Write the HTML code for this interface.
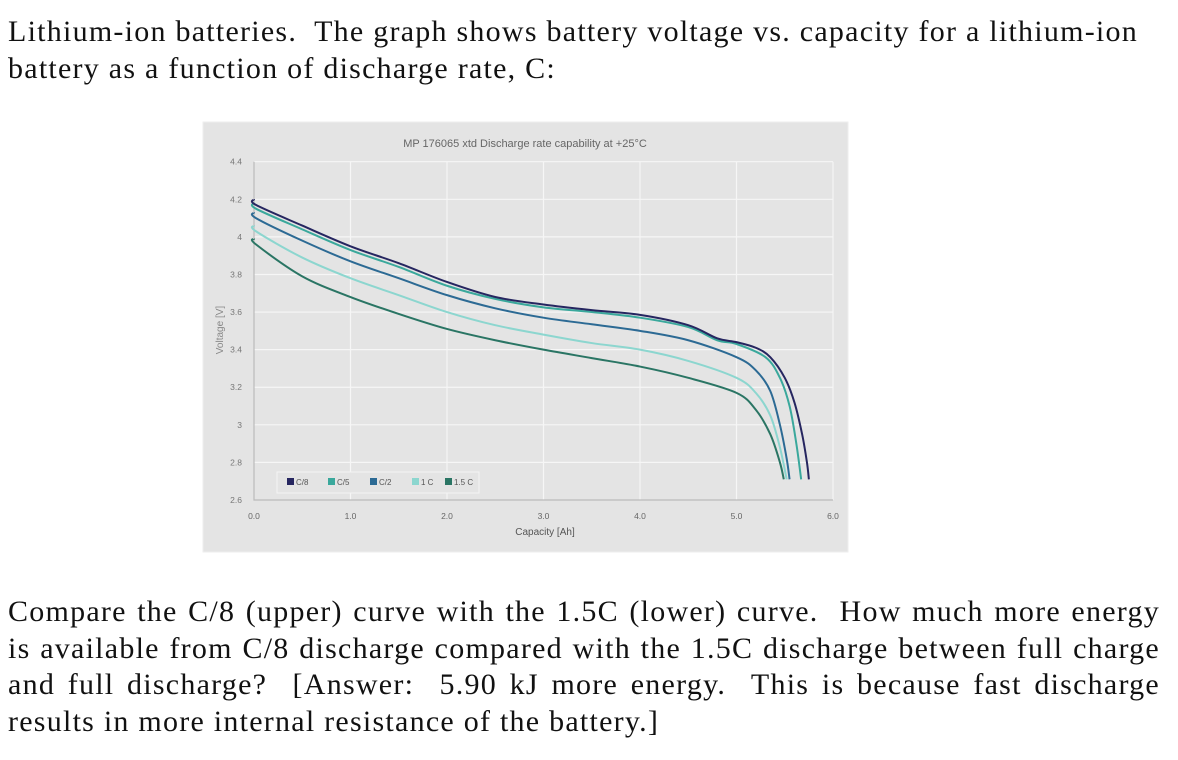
<!DOCTYPE html>
<html><head><meta charset="utf-8"><style>
body{margin:0;width:1178px;height:760px;background:#fff;overflow:hidden;position:relative;font-family:"Liberation Serif",serif;color:#111}
.p{position:absolute;left:8px;width:1152px;font-size:30px;line-height:36.5px;margin:0;letter-spacing:1.25px}
#top{top:14px}
#bot{top:594px}
.j{display:block;text-align:justify;text-align-last:justify;white-space:nowrap}
.l{display:block;white-space:nowrap}
svg{position:absolute;left:0;top:0}
</style></head><body>
<p class="p" id="top"><span class="l">Lithium-ion batteries.&nbsp; The graph shows battery voltage vs. capacity for a lithium-ion</span><span class="l">battery as a function of discharge rate, C:</span></p>
<svg width="1178" height="760" id="chart"></svg>
<p class="p" id="bot"><span class="j">Compare the C/8 (upper) curve with the 1.5C (lower) curve.&nbsp; How much more energy</span><span class="j">is available from C/8 discharge compared with the 1.5C discharge between full charge</span><span class="j">and full discharge?&nbsp; [Answer:&nbsp; 5.90 kJ more energy.&nbsp; This is because fast discharge</span><span class="l">results in more internal resistance of the battery.]</span></p>
<script>
const seriesNames=["C/8","C/5","C/2","1C","1.5C"];
const seriesColors=["#262660","#3aa89c","#2c6a94","#8cd6cf","#2a7564"];
const capC8=[0,0.02,0.5,1,1.5,2,2.5,3,3.5,4,4.5,4.8,5,5.2,5.35,5.5,5.6,5.68,5.73,5.75];
const voltC8=[4.2,4.17,4.06,3.95,3.86,3.76,3.68,3.64,3.61,3.585,3.53,3.46,3.44,3.41,3.36,3.25,3.12,2.95,2.8,2.71];
const capC5=[0,0.02,0.5,1,1.5,2,2.5,3,3.5,4,4.5,4.8,5,5.3,5.45,5.55,5.62,5.67];
const voltC5=[4.18,4.15,4.04,3.93,3.84,3.74,3.67,3.625,3.6,3.57,3.52,3.45,3.43,3.36,3.25,3.1,2.9,2.71];
const capC2=[0,0.02,0.5,1,1.5,2,2.5,3,3.5,4,4.5,5,5.2,5.35,5.45,5.52,5.55];
const voltC2=[4.13,4.1,3.98,3.87,3.78,3.69,3.62,3.57,3.535,3.5,3.45,3.36,3.29,3.18,3.0,2.82,2.71];
const cap1C=[0,0.02,0.5,1,1.5,2,2.5,3,3.5,4,4.5,5,5.2,5.35,5.45,5.52];
const volt1C=[4.06,4.03,3.89,3.78,3.69,3.6,3.53,3.48,3.435,3.4,3.34,3.25,3.17,3.05,2.88,2.71];
const cap15C=[0,0.02,0.5,1,1.5,2,2.5,3,3.5,4,4.5,5,5.2,5.35,5.45,5.49];
const volt15C=[3.99,3.96,3.79,3.68,3.59,3.51,3.45,3.4,3.355,3.31,3.25,3.17,3.08,2.95,2.8,2.71];
const xTicks=["0.0","1.0","2.0","3.0","4.0","5.0","6.0"];
const yTicks=["2.6","2.8","3","3.2","3.4","3.6","3.8","4","4.2","4.4"];
const allCaps=[capC8,capC5,capC2,cap1C,cap15C];
const allVolts=[voltC8,voltC5,voltC2,volt1C,volt15C];

const NS="http://www.w3.org/2000/svg";
const svg=document.getElementById('chart');
const X0=254,X1=833,Y0=500,Y1=161.7;
const xs=v=>X0+(v-0)/(6-0)*(X1-X0);
const ys=v=>Y0-(v-2.6)/(4.4-2.6)*(Y0-Y1);
function mk(t,a,p){const e=document.createElementNS(NS,t);for(const k in a)e.setAttribute(k,a[k]);(p||svg).appendChild(e);return e;}

const bg=mk('rect',{x:203,y:122,width:645,height:430,fill:'#e4e4e4',stroke:'#eeeeee'});


const title=mk('text',{x:525,y:147,'text-anchor':'middle','font-size':11,fill:'#666','font-family':'Liberation Sans, sans-serif'});
title.textContent='MP 176065 xtd Discharge rate capability at +25°C';



xTicks.forEach(t=>{const v=parseFloat(t);const x=xs(v);
 if(v>0){const g=mk('line',{x1:x,x2:x,y1:Y1,y2:Y0,stroke:'#f6f6f6','stroke-width':1.2});
 
 }
 const l=mk('text',{x:x,y:519,'text-anchor':'middle','font-size':8.5,fill:'#666','font-family':'Liberation Sans, sans-serif'});l.textContent=t;
 
 
});
yTicks.forEach(t=>{const v=parseFloat(t);const y=ys(v);
 if(v>2.6){const g=mk('line',{x1:X0,x2:X1,y1:y,y2:y,stroke:'#f6f6f6','stroke-width':1.2});
 
 }
 const l=mk('text',{x:242,y:y+3,'text-anchor':'end','font-size':8.5,fill:'#777','font-family':'Liberation Sans, sans-serif'});l.textContent=t;
 
 
});
const ax=mk('path',{d:`M${X0},${Y1} V${Y0} H${X1}`,fill:'none',stroke:'#bbb','stroke-width':1.2});


const yl=mk('text',{x:0,y:0,transform:'translate(223,330) rotate(-90)','text-anchor':'middle','font-size':10,fill:'#888','font-family':'Liberation Sans, sans-serif'});
yl.textContent='Voltage [V]';


const xl=mk('text',{x:545,y:535,'text-anchor':'middle','font-size':10,fill:'#555','font-family':'Liberation Sans, sans-serif'});
xl.textContent='Capacity [Ah]';



function smooth(pts){let d=`M${pts[0][0]},${pts[0][1]}`;
 for(let i=0;i<pts.length-1;i++){const p0=pts[Math.max(0,i-1)],p1=pts[i],p2=pts[i+1],p3=pts[Math.min(pts.length-1,i+2)];
  const c1=[p1[0]+(p2[0]-p0[0])/6,p1[1]+(p2[1]-p0[1])/6],c2=[p2[0]-(p3[0]-p1[0])/6,p2[1]-(p3[1]-p1[1])/6];
  d+=` C${c1[0]},${c1[1]} ${c2[0]},${c2[1]} ${p2[0]},${p2[1]}`;}
 return d;}
for(let s=allCaps.length-1;s>=0;s--){
 const pts=allCaps[s].map((c,i)=>[xs(c),ys(allVolts[s][i])]);
 const p=mk('path',{d:smooth(pts),fill:'none',stroke:seriesColors[s],'stroke-width':2});
 
 
}
const lg=mk('rect',{x:277,y:472,width:202,height:21,fill:'#e4e4e4',stroke:'#f4f4f4'});


const lx=[287,328,370,412,445];
seriesNames.forEach((n,i)=>{
 const r=mk('rect',{x:lx[i],y:478,width:7,height:7,fill:seriesColors[i]});
 
 
 const t=mk('text',{x:lx[i]+9,y:485,'font-size':8,fill:'#555','font-family':'Liberation Sans, sans-serif'});t.textContent=n.replace('1C','1 C').replace('1.5C','1.5 C');
 
 
});
</script>
</body></html>
